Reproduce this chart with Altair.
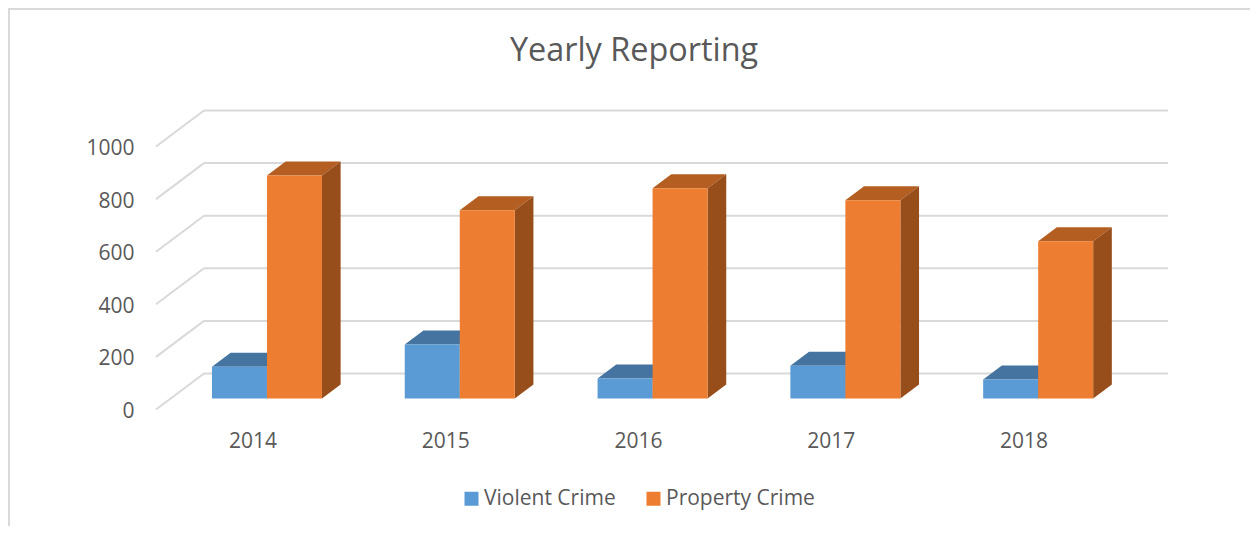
import altair as alt
import pandas as pd

years = [2014, 2015, 2016, 2017, 2018]
violent = [121, 205, 76, 125, 72]
prop = [848, 716, 799, 754, 598]
ticks = [0, 200, 400, 600, 800, 1000]
series = ["Violent Crime", "Property Crime"]
front_colors = ["#5B9BD5", "#ED7D31"]
top_colors = ["#44749F", "#B55E21"]
side_colors = ["#3C6589", "#984E1B"]
GRID = "#D9D9D9"
TEXT = "#595959"
FONT = "Open Sans"

W, H = 1242, 518
PX_PER_CAT = 192.8
PX_PER_VAL = 0.263
X0, Y0 = 148.0, 401.5
DX, DY = 48 / PX_PER_CAT, 36 / PX_PER_VAL
D0, D1 = 11 / 36, 25 / 36
GAP, BAR = 41.3 / PX_PER_CAT, 55 / PX_PER_CAT

x_scale = alt.Scale(domain=[-X0 / PX_PER_CAT, (W - X0) / PX_PER_CAT], range=[0, W], nice=False, zero=False)
y_scale = alt.Scale(domain=[(Y0 - H) / PX_PER_VAL, Y0 / PX_PER_VAL], range=[H, 0], nice=False, zero=False)

fronts, sides, tops = [], [], []
for s, (name, vals) in enumerate(zip(series, [violent, prop])):
    for k, v in enumerate(vals):
        u0 = k + GAP + s * BAR
        u1 = u0 + BAR
        f0, f1 = u0 + D0 * DX, u1 + D0 * DX
        b0, b1 = u0 + D1 * DX, u1 + D1 * DX
        fy, by = D0 * DY, D1 * DY
        key = f"{name}{k}"
        fronts.append(dict(series=name, s=s, x=f0, x2=f1, y=fy, y2=v + fy))
        sides += [dict(key=key, s=s, x=f1, lo=fy, hi=v + fy), dict(key=key, s=s, x=b1, lo=by, hi=v + by)]
        tops += [
            dict(key=key, s=s, x=f0, lo=v + fy, hi=v + fy),
            dict(key=key, s=s, x=b0, lo=v + fy, hi=v + by),
            dict(key=key, s=s, x=f1, lo=v + fy, hi=v + by),
            dict(key=key, s=s, x=b1, lo=v + by, hi=v + by),
        ]
fronts, sides, tops = map(pd.DataFrame, (fronts, sides, tops))

wall = pd.DataFrame([dict(x=DX, x2=5 + DX, y=t + DY) for t in ticks])
diag = pd.DataFrame(
    [dict(t=t, x=0, y=t) for t in ticks] + [dict(t=t, x=DX, y=t + DY) for t in ticks]
)

X = alt.X(
    "x:Q",
    scale=x_scale,
    title=None,
    axis=alt.Axis(
        values=[k + 0.5 for k in range(len(years))],
        labelExpr=f"{years[0]} + datum.value - 0.5",
        offset=-85,
        grid=False, domain=False, ticks=False,
        labelFont=FONT, labelFontSize=21, labelColor=TEXT,
        labelPadding=0, labelBaseline="middle", labelOverlap=False, labelFlush=False, labelBound=False,
    ),
)
Y = alt.Y(
    "y:Q",
    scale=y_scale,
    title=None,
    axis=alt.Axis(
        values=ticks,
        format="d",
        offset=-126,
        grid=False, domain=False, ticks=False,
        labelFont=FONT, labelFontSize=21, labelColor=TEXT, labelOffset=2,
        labelPadding=0, labelBaseline="middle", labelAlign="right", labelOverlap=False, labelFlush=False, labelBound=False,
    ),
)

grid_wall = alt.Chart(wall).mark_rule(color=GRID, strokeWidth=2).encode(x=X, x2="x2:Q", y=Y)
grid_diag = alt.Chart(diag).mark_line(color=GRID, strokeWidth=2).encode(
    x=alt.X("x:Q", scale=x_scale), y=alt.Y("y:Q", scale=y_scale), detail="t:N"
)


def bars(s):
    def face(df, color):
        return (
            alt.Chart(df[df.s == s])
            .mark_area(color=color, opacity=1, interpolate="linear")
            .encode(
                x=alt.X("x:Q", scale=x_scale),
                y=alt.Y("lo:Q", scale=y_scale),
                y2="hi:Q",
                detail="key:N",
            )
        )

    front = (
        alt.Chart(fronts[fronts.s == s])
        .mark_rect()
        .encode(
            x=alt.X("x:Q", scale=x_scale),
            x2="x2:Q",
            y=alt.Y("y:Q", scale=y_scale),
            y2="y2:Q",
            color=alt.Color(
                "series:N",
                scale=alt.Scale(domain=series, range=front_colors),
                sort=series,
                legend=alt.Legend(
                    title=None,
                    orient="none",
                    legendX=453,
                    legendY=480,
                    direction="horizontal",
                    symbolType="square",
                    symbolSize=196,
                    symbolStrokeWidth=0,
                    symbolOpacity=1,
                    labelFont=FONT,
                    labelFontSize=21,
                    labelColor=TEXT,
                    labelOffset=2,
                    columnPadding=27,
                    labelLimit=300,
                ),
            ),
        )
    )
    return [face(tops, top_colors[s]), face(sides, side_colors[s]), front]


border_left = alt.Chart(pd.DataFrame({"a": [0]})).mark_rule(color=GRID, strokeWidth=2).encode(
    x=alt.value(1), y=alt.value(0), y2=alt.value(H)
)
border_top = alt.Chart(pd.DataFrame({"a": [0]})).mark_rule(color=GRID, strokeWidth=2).encode(
    y=alt.value(1), x=alt.value(0), x2=alt.value(W)
)

chart = (
    alt.layer(border_left, border_top, grid_wall, grid_diag, *bars(0), *bars(1))
    .properties(
        width=W,
        height=H,
        padding=0,
        autosize=alt.AutoSizeParams(type="none"),
        title=alt.TitleParams(
            "Yearly Reporting",
            font=FONT,
            fontSize=32.4,
            fontWeight="normal",
            color=TEXT,
            anchor="middle",
            frame="group",
            baseline="middle",
            dy=76,
            dx=5,
            offset=0,
        ),
    )
    .configure_view(stroke=None)
    .configure(background="white")
)

chart.save("out.html", embed_options={"renderer": "svg", "actions": False})
